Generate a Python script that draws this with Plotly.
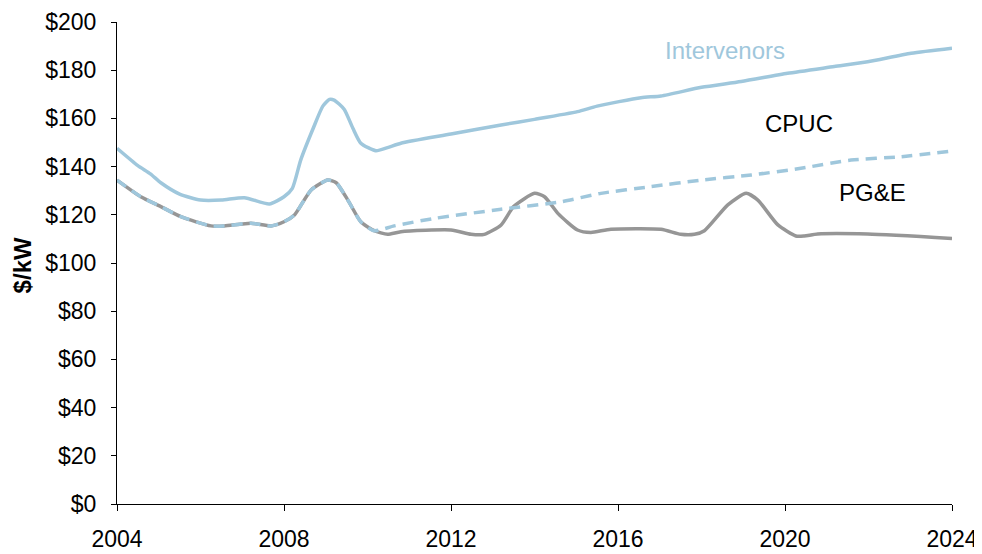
import plotly.graph_objects as go

# Intervenors forecast
int_years = [2004.0, 2004.5, 2004.8, 2005.05, 2005.5, 2006.0, 2006.5, 2007.05, 2007.65, 2008.0,
             2008.2, 2008.4, 2008.7, 2008.93, 2009.09, 2009.2, 2009.44, 2009.65, 2009.84, 2010.2,
             2010.48, 2010.8, 2012.0, 2013.2, 2014.0, 2015.03, 2015.5, 2016.55, 2017.03, 2018.0,
             2018.95, 2020.06, 2021.18, 2021.98, 2023.02, 2024.0]
int_vals = [147.6, 140.4, 137.0, 133.3, 128.6, 126.1, 126.1, 127.1, 124.5, 127.5,
            131.0, 142.7, 155.9, 165.1, 167.9, 167.6, 163.8, 155.9, 149.7, 146.6,
            147.9, 149.7, 153.5, 157.3, 159.6, 162.8, 165.1, 168.6, 169.3, 172.9,
            175.3, 178.7, 181.5, 183.5, 187.0, 189.1]

# PG&E forecast
pge_years = [2004.0, 2004.57, 2005.05, 2005.53, 2006.25, 2006.57, 2007.21, 2007.69, 2008.0, 2008.25,
             2008.65, 2009.05, 2009.25, 2009.53, 2009.84, 2010.16, 2010.48, 2010.8, 2012.0, 2012.48,
             2012.8, 2013.2, 2013.5, 2014.0, 2014.24, 2014.56, 2015.03, 2015.35, 2015.83, 2017.03,
             2017.5, 2017.83, 2018.07, 2018.63, 2019.07, 2019.35, 2019.83, 2020.26, 2020.46, 2020.78,
             2021.98, 2024.0]
pge_vals = [134.4, 127.5, 123.4, 119.2, 115.4, 115.4, 116.5, 115.4, 117.1, 119.9,
            130.3, 134.4, 133.3, 126.1, 117.1, 113.4, 111.9, 113.0, 113.7, 111.9,
            111.9, 115.8, 123.4, 128.9, 127.5, 120.6, 113.7, 112.7, 114.0, 114.0,
            111.9, 111.9, 113.4, 124.1, 128.9, 126.1, 115.8, 111.2, 111.2, 112.0,
            112.0, 110.2]

# CPUC adopted forecast
cpuc_years = [2004.0, 2004.57, 2005.05, 2005.53, 2006.25, 2006.57, 2007.21, 2007.69, 2008.0, 2008.25,
              2008.65, 2009.05, 2009.25, 2009.53, 2009.84, 2010.16, 2010.64, 2011.6, 2013.2, 2014.63,
              2015.59, 2016.79, 2017.99, 2019.19, 2020.38, 2021.58, 2022.78, 2024.0]
cpuc_vals = [134.4, 127.5, 123.4, 119.2, 115.4, 115.4, 116.5, 115.4, 117.1, 119.9,
             130.3, 134.4, 133.3, 126.1, 117.1, 113.4, 115.4, 118.5, 122.3, 125.4,
             128.9, 131.7, 134.4, 136.5, 139.3, 142.7, 144.1, 146.5]

x_ticks = [2004, 2008, 2012, 2016, 2020, 2024]

BLUE = "#9FC7DC"
GRAY = "#969696"
FONT = "Liberation Sans, Arial, sans-serif"

fig = go.Figure()
fig.add_trace(go.Scatter(x=int_years, y=int_vals, mode="lines", name="Intervenors",
                         line=dict(color=BLUE, width=3.5, shape="spline", smoothing=0.6)))
fig.add_trace(go.Scatter(x=pge_years, y=pge_vals, mode="lines", name="PG&E",
                         line=dict(color=GRAY, width=3.5, shape="spline", smoothing=0.6)))
fig.add_trace(go.Scatter(x=cpuc_years, y=cpuc_vals, mode="lines", name="CPUC",
                         line=dict(color=BLUE, width=3.5, dash="11px,7px", shape="spline", smoothing=0.6)))

fig.add_annotation(x=2018.56, y=188.0, text="Intervenors", showarrow=False,
                   font=dict(color=BLUE, size=24))
fig.add_annotation(x=2020.33, y=157.7, text="CPUC", showarrow=False,
                   font=dict(color="black", size=24))
fig.add_annotation(x=2022.1, y=129.3, text="PG&E", showarrow=False,
                   font=dict(color="black", size=24))
fig.add_annotation(xref="paper", yref="paper", x=-0.1138, y=0.495, text="<b>$/kW</b>",
                   xanchor="center", yanchor="middle",
                   showarrow=False, textangle=-90, font=dict(color="black", size=24))

fig.update_layout(
    width=974, height=546,
    margin=dict(l=109, r=30, t=14, b=50, autoexpand=False),
    paper_bgcolor="white", plot_bgcolor="white",
    showlegend=False,
    font=dict(family=FONT, size=23, color="black"),
)
fig.update_xaxes(range=[2004, 2024], tickvals=x_ticks, showgrid=False, zeroline=False,
                 showline=True, linecolor="black", linewidth=1, automargin=False,
                 ticks="outside", ticklen=6, tickcolor="black", ticklabelstandoff=8,
                 tickfont=dict(size=23))
fig.update_yaxes(range=[0, 200], dtick=20, tickprefix="$", showgrid=False, zeroline=False,
                 showline=True, linecolor="black", linewidth=1, automargin=False,
                 ticks="outside", ticklen=5, tickcolor="black", ticklabelstandoff=10,
                 tickfont=dict(size=23))

fig.write_html("out.html")
